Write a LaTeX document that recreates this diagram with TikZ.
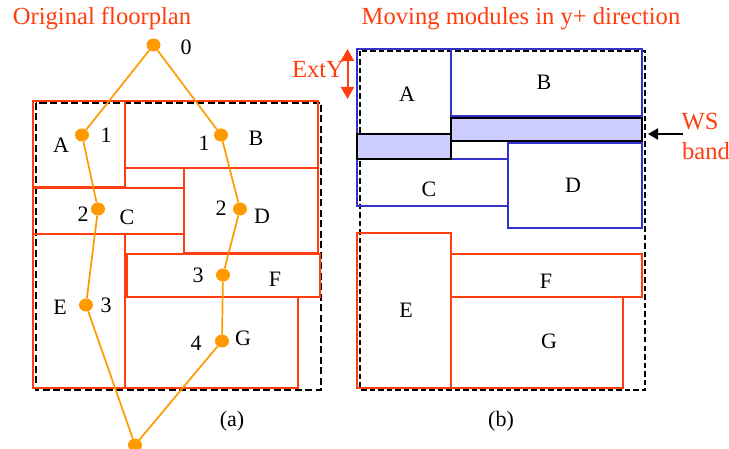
\documentclass[tikz,border=0pt]{standalone}
\usepackage{fontspec}
\setmainfont{Liberation Serif}
\usetikzlibrary{arrows.meta,shapes.geometric}
\definecolor{redm}{HTML}{FF3D0D}
\definecolor{orangem}{HTML}{FF9A00}
\definecolor{bluem}{HTML}{3333CC}
\definecolor{bandf}{HTML}{CCCCFF}
\tikzset{
  redbox/.style={draw=redm,line width=2pt},
  bluebox/.style={draw=bluem,line width=2pt},
  bandbox/.style={draw=black,fill=bandf,line width=2pt},
  dashbox/.style={draw=black,line width=2pt,dash pattern=on 7pt off 3.5pt},
  dashboxb/.style={draw=black,line width=2pt,dash pattern=on 5.5pt off 3pt},
  dotm/.style={ellipse,fill=orangem,minimum width=14pt,minimum height=13pt,inner sep=0pt},
  link/.style={draw=orangem,line width=1.7pt},
  lab/.style={font=\fontsize{22}{24}\selectfont,text=black,inner sep=0pt},
  rlab/.style={font=\fontsize{24.6}{26}\selectfont,text=redm,inner sep=0pt},
  small/.style={font=\fontsize{22}{24}\selectfont,text=black,inner sep=0pt},
}
\begin{document}
\begin{tikzpicture}[x=1pt,y=-1pt]
\useasboundingbox[fill=white] (0,0) rectangle (729,449);
% (a) dashed outline
\draw[dashbox] (35.5,103) rectangle (321,390);
% (a) modules
\draw[redbox] (33,101) rectangle (125,187);
\draw[redbox] (125,101) rectangle (318,168);
\draw[redbox] (33,188) rectangle (184,234);
\draw[redbox] (184,168) rectangle (318,253);
\draw[redbox] (33,234) rectangle (125,388);
\draw[redbox] (125,297) rectangle (298,388);
\draw[redbox] (127,254) rectangle (320,297);
% (a) graph
\node[dotm] (n0) at (153.5,45) {};
\node[dotm] (nA) at (82,135) {};
\node[dotm] (nB) at (221,135) {};
\node[dotm] (nC) at (98,209) {};
\node[dotm] (nD) at (240,209) {};
\node[dotm] (nE) at (86,305) {};
\node[dotm] (nF) at (223,275) {};
\node[dotm] (nG) at (222,341) {};
\node[dotm] (nT) at (135,445) {};
\draw[link] (n0) -- (nA);
\draw[link] (n0) -- (nB);
\draw[link] (nA) -- (nC);
\draw[link] (nB) -- (nD);
\draw[link] (nC) -- (nE);
\draw[link] (nD) -- (nF);
\draw[link] (nF) -- (nG);
\draw[link] (nE) -- (nT);
\draw[link] (nG) -- (nT);
% (a) labels
\node[rlab] (t1) at (102,18) {Original floorplan};
\node[lab] (l0) at (186,47) {0};
\node[lab] (lA) at (61,145) {A};
\node[lab] (l1a) at (106,135) {1};
\node[lab] (l1b) at (204,143) {1};
\node[lab] (lB) at (256,138) {B};
\node[lab] (l2c) at (83,214) {2};
\node[lab] (lC) at (127,217) {C};
\node[lab] (l2d) at (221,208) {2};
\node[lab] (lD) at (262,216) {D};
\node[lab] (l3f) at (198,275) {3};
\node[lab] (lF) at (275,279) {F};
\node[lab] (lE) at (60,307) {E};
\node[lab] (l3e) at (106,305) {3};
\node[lab] (l4) at (196,343) {4};
\node[lab] (lG) at (243,338) {G};
\node[small] (ca) at (232,421) {(a)};
% (b) dashed outline
\draw[dashboxb] (360,51) rectangle (645,390);
% (b) modules
\draw[bluebox] (357,49) rectangle (450.5,134);
\draw[bluebox] (450.5,49) rectangle (642,116);
\draw[bluebox] (357,159) rectangle (508,206);
\draw[bluebox] (508,143) rectangle (642,228);
\draw[redbox] (357,233) rectangle (450.5,388);
\draw[redbox] (450.5,297) rectangle (623,388);
\draw[redbox] (450.5,254) rectangle (642,297);
\draw[bandbox] (357,134) rectangle (450.5,159);
\draw[bandbox] (450.5,118) rectangle (642,141);
% (b) labels
\node[rlab] (t2) at (521,19) {Moving modules in y+ direction};
\node[lab] (rA) at (407,94) {A};
\node[lab] (rB) at (544,82) {B};
\node[lab] (rC) at (429,189) {C};
\node[lab] (rD) at (573,185) {D};
\node[lab] (rE) at (406,310) {E};
\node[lab] (rF) at (546,281) {F};
\node[lab] (rG) at (549,341) {G};
\node[small] (cb) at (501,421) {(b)};
\node[rlab] (ext) at (318,70) {ExtY};
\coordinate (e1) at (347.5,49);
\coordinate (e2) at (347.5,99);
\draw[redm,line width=2pt,{Triangle[length=12pt,width=13pt]}-{Triangle[length=12pt,width=13pt]}] (e1) -- (e2);
\node[rlab] (ws1) at (700,122) {WS};
\node[rlab] (ws2) at (706,151) {band};
\coordinate (w1) at (683,134);
\coordinate (w2) at (648,134);
\draw[black,line width=2pt,-{Triangle[length=10pt,width=11pt]}] (w1) -- (w2);
\end{tikzpicture}
\end{document}
